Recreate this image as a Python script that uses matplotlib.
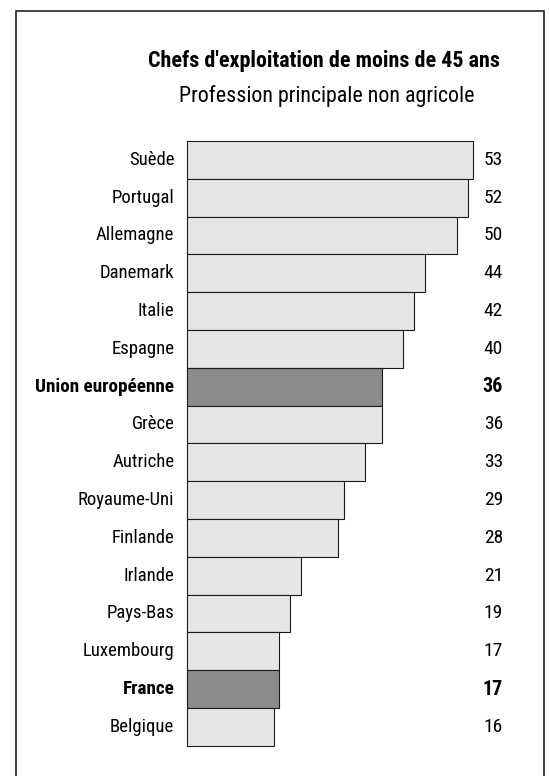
import matplotlib.pyplot as plt
from matplotlib import font_manager
from matplotlib.patches import Rectangle

# police étroite si disponible
installees = {f.name for f in font_manager.fontManager.ttflist}
candidates = ['Liberation Sans Narrow', 'DejaVu Sans Condensed', 'Roboto Condensed',
              'Open Sans Condensed', 'Noto Sans Condensed', 'Arial Narrow']
etroites = [c for c in candidates if c in installees]
plt.rcParams['font.family'] = etroites + ['DejaVu Sans']
plt.rcParams['font.stretch'] = 'condensed'

# Part des chefs d'exploitation de moins de 45 ans avec une autre profession principale (%)
pays = ["Suède", "Portugal", "Allemagne", "Danemark", "Italie", "Espagne",
        "Union européenne", "Grèce", "Autriche", "Royaume-Uni", "Finlande",
        "Irlande", "Pays-Bas", "Luxembourg", "France", "Belgique"]
valeurs = [53, 52, 50, 44, 42, 40, 36, 36, 33, 29, 28, 21, 19, 17, 17, 16]
mis_en_avant = ["Union européenne", "France"]

W, H = 549, 776
fig = plt.figure(figsize=(W / 100, H / 100), dpi=100)

# axe placé à la main : 0 % à x=187 px, environ 5.4 px par point
x0, px_unit = 187.3, 5.396
xmax = 60
top, bottom = 141.0, 745.7
ax = fig.add_axes([x0 / W, (H - bottom) / H, xmax * px_unit / W, (bottom - top) / H])

couleurs = ['#8c8c8c' if p in mis_en_avant else '#e6e6e6' for p in pays]
barres = ax.barh(range(len(pays)), valeurs, height=1.0, color=couleurs,
                 edgecolor='#1a1a1a', linewidth=0.8)
for b in barres:
    b.set_clip_on(False)
ax.set_xlim(0, xmax)
ax.set_ylim(len(pays) - 0.5, -0.5)
ax.axis('off')

for i, (p, v) in enumerate(zip(pays, valeurs)):
    if p in mis_en_avant:
        ax.text(-2.4, i, p, ha='right', va='center', fontsize=13.8, fontweight='bold')
        ax.text(58.5, i, str(v), ha='right', va='center', fontsize=14.5, fontweight='bold')
    else:
        ax.text(-2.4, i, p, ha='right', va='center', fontsize=13.5)
        ax.text(58.5, i, str(v), ha='right', va='center', fontsize=14)

fig.text(324 / W, 1 - 61 / H, "Chefs d'exploitation de moins de 45 ans",
         ha='center', va='center', fontsize=15.8, fontweight='bold')
fig.text(327 / W, 1 - 96 / H, "Profession principale non agricole",
         ha='center', va='center', fontsize=15.8)

# cadre autour du graphique, ouvert en bas
fig.patches.append(Rectangle((16 / W, -0.05), (544 - 16) / W, (H - 11) / H + 0.05,
                             transform=fig.transFigure, fill=False,
                             edgecolor='#222222', linewidth=1.2))

fig.savefig('out.png', dpi=100)
